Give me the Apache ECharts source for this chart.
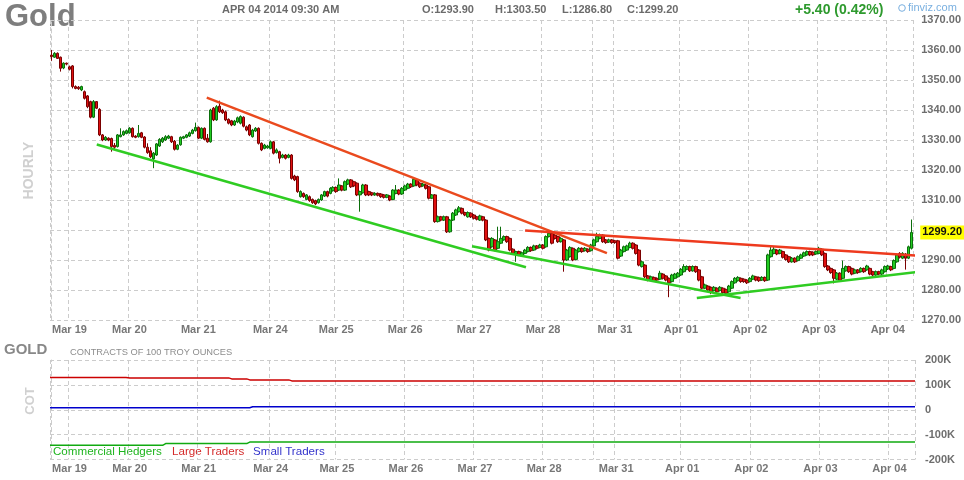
<!DOCTYPE html>
<html><head><meta charset="utf-8">
<script src="https://cdn.jsdelivr.net/npm/echarts@6/dist/echarts.min.js"></script>
<style>html,body{margin:0;padding:0;background:#fff}#c{width:964px;height:480px}</style>
</head><body><div id="c"></div>
<script>
// Hourly candles: [open, close, low, high]
const candles = [
[1358.3,1357.8,1356.4,1360.0],[1357.6,1358.9,1357.4,1359.3],[1358.9,1357.2,1357.0,1359.2],[1357.6,1353.9,1352.8,1357.8],
[1354.0,1355.6,1353.6,1355.9],[1355.6,1355.3,1354.9,1355.8],[1354.4,1353.6,1353.2,1354.8],[1354.7,1347.8,1347.2,1355.0],
[1347.8,1347.2,1346.9,1348.2],[1347.6,1347.1,1346.7,1348.0],[1346.7,1347.8,1346.3,1348.1],[1346.1,1343.9,1343.5,1346.5],
[1344.7,1341.1,1340.6,1345.0],[1342.8,1337.6,1337.2,1343.1],[1337.6,1342.8,1337.3,1343.3],[1342.8,1340.6,1340.3,1343.0],
[1340.2,1331.7,1331.3,1340.6],[1331.7,1330.0,1329.6,1332.0],[1330.0,1330.9,1329.7,1331.3],[1330.6,1330.0,1329.6,1330.9],
[1330.5,1327.8,1326.1,1330.8],[1328.2,1327.6,1326.9,1329.0],[1327.8,1331.7,1327.5,1332.0],[1331.1,1331.7,1330.9,1333.9],
[1331.7,1332.8,1331.4,1333.2],[1332.2,1333.1,1331.9,1333.5],[1332.4,1333.9,1332.1,1334.3],[1333.9,1331.1,1330.8,1334.2],
[1331.3,1330.9,1330.6,1331.6],[1331.1,1332.2,1330.8,1335.0],[1332.4,1330.9,1330.6,1332.7],[1331.0,1327.6,1327.2,1331.3],
[1327.6,1325.8,1325.4,1328.9],[1326.4,1324.4,1324.0,1327.6],[1323.7,1325.6,1320.6,1326.0],[1325.0,1328.7,1324.7,1329.0],
[1328.0,1330.2,1327.7,1330.6],[1329.4,1330.6,1329.0,1331.0],[1330.0,1331.1,1329.7,1331.6],[1330.6,1331.3,1330.3,1331.7],
[1331.1,1329.4,1329.0,1331.4],[1329.6,1326.9,1326.5,1330.0],[1326.9,1328.3,1326.6,1328.6],[1328.4,1330.9,1328.1,1331.2],
[1330.6,1331.1,1330.3,1331.4],[1330.9,1331.7,1330.6,1332.0],[1331.3,1332.4,1331.0,1332.8],[1332.2,1333.3,1331.9,1333.7],
[1333.1,1334.2,1332.8,1335.8],[1334.2,1330.6,1330.3,1334.5],[1330.6,1333.9,1330.3,1334.2],[1333.9,1330.2,1329.9,1334.2],
[1330.6,1329.4,1329.1,1332.0],[1329.4,1340.0,1329.1,1340.4],[1340.6,1336.7,1336.3,1341.0],[1336.7,1341.1,1336.4,1341.6],
[1341.3,1339.4,1339.0,1343.1],[1340.0,1339.1,1338.7,1340.4],[1339.4,1336.7,1336.3,1339.8],[1336.9,1335.6,1335.2,1337.2],
[1336.4,1335.0,1334.6,1336.7],[1335.0,1336.3,1334.7,1336.7],[1336.0,1337.4,1335.6,1337.8],[1335.6,1337.8,1335.2,1338.2],
[1337.6,1334.6,1334.2,1337.9],[1334.4,1333.3,1332.9,1334.8],[1335.0,1331.7,1331.3,1335.3],[1331.1,1333.3,1330.8,1333.7],
[1333.0,1333.9,1332.7,1334.3],[1333.9,1328.9,1328.5,1334.2],[1328.9,1326.7,1326.3,1329.2],[1327.2,1328.3,1326.9,1328.7],
[1327.4,1328.0,1327.1,1328.4],[1327.2,1329.4,1326.9,1329.8],[1329.4,1325.6,1325.2,1329.7],[1325.8,1326.7,1325.5,1327.2],
[1326.1,1323.9,1322.2,1326.4],[1324.2,1325.0,1323.9,1325.4],[1325.0,1323.9,1323.5,1325.3],[1324.2,1325.0,1323.9,1325.4],
[1325.0,1317.2,1316.8,1325.3],[1318.0,1316.7,1316.3,1318.4],[1317.8,1312.8,1312.4,1318.1],[1311.1,1312.8,1310.8,1313.2],
[1312.2,1311.1,1310.7,1312.5],[1310.2,1311.7,1309.9,1312.0],[1311.1,1309.8,1309.4,1311.5],[1310.2,1309.1,1308.7,1310.5],
[1309.8,1308.7,1308.3,1310.1],[1309.1,1310.2,1308.8,1310.5],[1310.0,1311.7,1309.7,1312.0],[1311.3,1312.8,1311.0,1313.1],
[1312.8,1311.3,1310.9,1313.1],[1312.2,1313.9,1311.9,1314.3],[1313.1,1314.2,1312.8,1314.6],[1314.2,1312.8,1312.4,1314.5],
[1313.3,1315.0,1313.0,1317.2],[1314.7,1313.3,1312.9,1315.0],[1313.3,1316.1,1313.0,1316.5],[1315.3,1316.7,1315.0,1317.1],
[1316.7,1314.4,1314.0,1317.0],[1316.1,1314.7,1314.3,1316.4],[1315.6,1311.7,1311.3,1315.9],[1311.7,1312.8,1306.1,1313.1],
[1312.4,1315.0,1312.1,1315.4],[1315.0,1311.7,1311.3,1315.3],[1312.8,1311.7,1311.3,1313.1],[1312.4,1311.7,1311.3,1312.7],
[1311.7,1312.2,1311.4,1312.6],[1312.2,1311.6,1311.2,1312.5],[1312.0,1311.1,1310.7,1312.3],[1311.7,1310.9,1310.5,1312.0],
[1310.9,1311.7,1310.6,1312.0],[1311.3,1310.0,1309.6,1311.6],[1310.2,1313.3,1309.9,1313.6],[1312.2,1313.3,1311.9,1315.0],
[1313.3,1312.0,1311.6,1313.6],[1312.0,1313.9,1311.7,1314.3],[1313.3,1314.7,1313.0,1315.1],[1313.9,1315.3,1313.6,1315.7],
[1315.3,1314.4,1314.0,1315.6],[1314.7,1316.9,1314.4,1317.4],[1316.7,1315.0,1314.6,1317.0],[1315.6,1314.4,1314.0,1315.9],
[1314.7,1315.3,1314.4,1315.7],[1315.0,1313.9,1313.5,1315.3],[1314.4,1310.6,1310.2,1314.7],[1310.6,1311.7,1310.3,1312.0],
[1311.7,1302.8,1302.4,1312.0],[1302.8,1304.4,1302.5,1304.8],[1304.4,1303.3,1302.9,1304.7],[1303.3,1304.4,1303.0,1304.8],
[1304.4,1299.4,1299.0,1304.7],[1299.4,1303.3,1299.1,1303.7],[1303.3,1305.6,1303.0,1306.0],[1305.0,1306.7,1304.7,1307.1],
[1306.1,1307.4,1305.8,1308.0],[1307.2,1305.6,1305.2,1307.5],[1305.8,1305.0,1304.6,1306.1],[1304.4,1305.8,1304.1,1306.2],
[1305.6,1304.4,1304.0,1305.9],[1305.0,1303.9,1303.5,1305.3],[1304.4,1303.6,1303.2,1304.7],[1303.3,1304.7,1303.0,1305.1],
[1304.4,1303.3,1302.9,1304.7],[1303.3,1296.7,1296.3,1303.6],[1297.2,1293.3,1292.9,1297.5],[1294.4,1297.2,1294.1,1297.6],
[1296.7,1293.3,1292.9,1297.0],[1293.9,1296.1,1293.6,1301.1],[1295.6,1297.2,1295.3,1301.1],[1296.7,1297.8,1296.4,1298.2],
[1297.8,1296.1,1295.7,1298.1],[1297.2,1293.3,1292.9,1297.5],[1293.6,1292.2,1291.8,1293.9],[1292.0,1292.8,1289.4,1293.1],
[1292.8,1291.7,1291.3,1293.1],[1291.3,1292.4,1291.0,1292.8],[1292.2,1293.3,1291.9,1293.7],[1292.8,1294.2,1292.5,1294.6],
[1294.2,1293.1,1292.7,1294.5],[1293.3,1294.7,1293.0,1295.1],[1294.7,1293.9,1293.5,1295.0],[1294.2,1295.0,1293.9,1295.4],
[1295.0,1293.9,1293.5,1295.3],[1294.4,1297.8,1294.1,1298.2],[1297.8,1298.9,1297.5,1299.4],[1298.9,1295.6,1295.2,1299.2],
[1298.3,1297.2,1296.8,1298.6],[1297.8,1296.1,1295.7,1298.1],[1296.1,1297.2,1295.8,1297.6],[1296.7,1290.0,1286.1,1297.0],
[1290.0,1293.3,1289.7,1293.7],[1291.1,1294.2,1290.8,1294.6],[1293.9,1290.0,1289.6,1294.2],[1290.2,1293.3,1289.9,1293.7],
[1292.8,1293.9,1292.5,1294.3],[1293.9,1292.8,1292.4,1294.2],[1293.1,1293.9,1292.8,1294.3],[1293.6,1292.8,1292.4,1293.9],
[1293.1,1295.0,1292.8,1295.4],[1294.7,1296.7,1294.4,1297.1],[1296.1,1297.8,1295.8,1299.1],[1297.2,1298.3,1296.9,1298.8],
[1298.3,1296.1,1295.7,1298.6],[1296.7,1295.8,1295.4,1297.0],[1296.0,1296.7,1295.7,1297.1],[1296.7,1295.8,1295.4,1297.0],
[1296.4,1295.8,1295.4,1296.7],[1296.4,1290.6,1290.2,1296.7],[1291.3,1293.3,1291.0,1293.7],[1292.8,1294.4,1292.5,1294.8],
[1293.3,1294.7,1293.0,1295.1],[1294.2,1295.6,1293.9,1296.1],[1295.6,1293.9,1293.5,1295.9],[1295.0,1292.2,1291.8,1295.3],
[1293.3,1288.3,1287.9,1293.6],[1287.8,1289.4,1287.5,1289.8],[1288.3,1284.4,1284.0,1288.6],[1284.7,1283.3,1282.9,1285.0],
[1283.3,1284.4,1283.0,1284.8],[1284.2,1283.1,1282.7,1284.5],[1283.9,1283.3,1282.9,1284.2],[1283.6,1285.6,1283.3,1286.4],
[1285.3,1283.9,1283.5,1285.6],[1284.7,1283.3,1282.9,1285.0],[1283.9,1282.4,1277.6,1284.2],[1282.8,1285.0,1282.5,1285.4],
[1283.9,1285.3,1283.6,1285.7],[1284.4,1285.6,1284.1,1286.0],[1285.0,1286.9,1284.7,1287.3],[1286.1,1287.8,1285.8,1288.6],
[1286.9,1287.8,1286.6,1288.2],[1287.8,1286.4,1286.0,1288.1],[1286.4,1287.8,1286.1,1288.2],[1287.8,1286.1,1285.7,1288.1],
[1286.7,1283.3,1282.9,1287.0],[1284.4,1280.6,1280.2,1284.7],[1280.6,1281.7,1280.3,1282.1],[1281.3,1280.0,1279.6,1281.6],
[1280.9,1279.4,1278.6,1281.2],[1279.8,1280.9,1279.5,1281.3],[1280.6,1279.4,1279.0,1280.9],[1279.8,1280.9,1279.5,1281.3],
[1280.6,1279.1,1278.7,1280.9],[1280.2,1278.9,1278.3,1280.5],[1279.4,1281.3,1279.1,1281.7],[1280.6,1282.8,1280.3,1283.2],
[1282.4,1283.9,1282.1,1284.3],[1283.1,1284.2,1282.8,1284.6],[1283.9,1282.8,1282.4,1284.2],[1283.6,1282.8,1282.4,1283.9],
[1283.3,1282.4,1282.0,1283.6],[1282.8,1283.9,1282.5,1284.3],[1283.6,1284.7,1283.3,1285.1],[1284.4,1283.3,1282.9,1284.7],
[1284.2,1283.1,1282.7,1284.5],[1283.3,1284.2,1283.0,1284.6],[1284.2,1283.1,1282.7,1284.5],[1283.3,1291.7,1283.0,1292.1],
[1291.1,1293.3,1290.8,1294.4],[1292.2,1293.6,1291.9,1294.4],[1293.3,1292.0,1291.6,1293.6],[1292.2,1293.3,1291.9,1293.7],
[1292.8,1290.9,1290.5,1293.1],[1291.7,1290.2,1289.8,1292.0],[1291.1,1289.4,1289.0,1291.4],[1289.4,1290.6,1289.1,1291.0],
[1290.6,1289.4,1289.0,1290.9],[1289.8,1291.1,1289.5,1291.5],[1290.6,1291.7,1290.3,1292.1],[1291.3,1292.4,1291.0,1292.8],
[1291.7,1292.8,1291.4,1293.2],[1292.8,1291.7,1291.3,1293.1],[1292.6,1291.7,1291.3,1292.9],[1292.0,1292.8,1291.7,1293.2],
[1292.2,1293.9,1291.9,1294.4],[1293.6,1291.7,1291.3,1293.9],[1292.2,1287.8,1287.4,1292.5],[1288.0,1286.7,1286.3,1288.3],
[1287.2,1285.8,1285.4,1287.5],[1286.7,1283.9,1282.2,1287.0],[1283.6,1285.6,1283.3,1286.0],[1285.6,1283.3,1282.9,1285.9],
[1283.9,1287.2,1283.6,1289.8],[1286.4,1287.8,1286.1,1288.2],[1287.8,1286.1,1285.7,1288.1],[1287.2,1285.3,1284.9,1287.5],
[1285.6,1286.7,1285.3,1287.1],[1286.7,1285.8,1285.4,1287.0],[1286.1,1287.2,1285.8,1287.6],[1287.2,1286.1,1285.7,1287.5],
[1286.7,1288.0,1286.4,1288.4],[1287.2,1285.3,1284.9,1287.5],[1286.1,1285.0,1284.6,1286.4],[1285.0,1286.1,1284.7,1286.5],
[1286.1,1285.3,1284.9,1286.4],[1285.3,1286.7,1285.0,1287.1],[1286.1,1287.8,1285.8,1288.2],[1287.0,1288.0,1286.7,1288.4],
[1287.8,1286.7,1286.3,1288.1],[1287.2,1289.8,1286.9,1290.2],[1289.4,1291.7,1289.1,1292.1],[1292.2,1290.9,1290.5,1292.6],
[1290.6,1292.2,1290.3,1292.6],[1292.0,1290.6,1286.8,1292.3],[1290.6,1294.4,1290.3,1294.8],[1293.9,1299.2,1293.5,1303.5]
];
const categories = candles.map((_, i) => i);

// x-axis date labels (bar index where each day label sits)
const tickIdx    = [6, 26, 49, 73, 95, 118, 141, 164, 188, 210, 233, 256, 279];
const tickLabels = ['Mar 19','Mar 20','Mar 21','Mar 24','Mar 25','Mar 26','Mar 27','Mar 28','Mar 31','Apr 01','Apr 02','Apr 03','Apr 04'];
const extraGridIdx = [0, 181];

// trend lines: [bar index, price]
const redTrend1   = [[51.8, 1344.1], [185.3, 1292.3]];
const redTrend2   = [[158.0, 1299.8], [289.2, 1291.4]];
const greenTrend1 = [[15.1, 1328.5], [158.3, 1287.6]];
const greenTrend2 = [[140.3, 1294.6], [229.9, 1277.3]];
const greenTrend3 = [[215.3, 1277.3], [291.5, 1286.3]];

// COT positions (contracts): [bar index, value]
const largeTraders      = [[-0.5,130000],[24.8,130000],[26.1,128000],[59,128000],[60,124000],[65,124000],[66,120000],[79,120000],[80,116000],[287.5,116000]];
const smallTraders      = [[-0.5,8000],[66,8000],[67,12000],[287.5,12000]];
const commercialHedgers = [[-0.5,-143000],[37,-143000],[38,-136000],[65,-136000],[66,-130000],[287.5,-130000]];

const lastPrice = 1299.20;
const headerTitle = 'Gold';
const headerDate = 'APR 04 2014 09:30 AM';
const headerOHLC = [['O:1293.90',422],['H:1303.50',495],['L:1286.80',562],['C:1299.20',627]];
const headerChange = '+5.40 (0.42%)';

const FONT = '"Liberation Sans", Arial, sans-serif';
const GRID = '#cccccc';
const DASH = [4, 3];
const tickSet = new Set(tickIdx);
const splitSet = new Set([...tickIdx, ...extraGridIdx]);

function catAxis(gi) {
  return {
    type: 'category', gridIndex: gi, data: categories, boundaryGap: true,
    axisLine: { show: false }, axisTick: { show: false },
    axisLabel: {
      interval: (i) => tickSet.has(i),
      formatter: (v, i) => tickLabels[tickIdx.indexOf(i)] || '',
      margin: 4, fontFamily: FONT, fontWeight: 'bold', fontSize: 11, color: '#777777'
    },
    splitLine: { show: true, interval: (i) => splitSet.has(i), lineStyle: { color: GRID, type: DASH, width: 1 } }
  };
}
function hiddenX(gi) {
  return { type: 'value', gridIndex: gi, min: -0.5, max: candles.length - 0.5, show: false };
}

const chart = echarts.init(document.getElementById('c'), null, { renderer: 'canvas' });
const trend = (data, color) => ({
  type: 'line', xAxisIndex: 2, yAxisIndex: 0, data, symbol: 'none', clip: false, silent: true,
  z: 5, lineStyle: { color, width: 2.5 }, animation: false
});
const cot = (data, color) => ({
  type: 'line', xAxisIndex: 3, yAxisIndex: 1, data, symbol: 'none', silent: true,
  z: 5, lineStyle: { color, width: 1.5 }, animation: false
});

chart.setOption({
  animation: false,
  backgroundColor: '#ffffff',
  grid: [
    { left: 50, right: 49, top: 20, height: 300 },
    { left: 50, right: 49, top: 360, height: 99.5 }
  ],
  xAxis: [catAxis(0), catAxis(1), hiddenX(0), hiddenX(1)],
  yAxis: [
    {
      type: 'value', gridIndex: 0, position: 'right', min: 1270, max: 1370, interval: 10,
      axisLine: { show: true, lineStyle: { color: GRID, type: DASH } }, axisTick: { show: false },
      splitLine: { lineStyle: { color: GRID, type: DASH } },
      axisLabel: { margin: 8, fontFamily: FONT, fontWeight: 'bold', fontSize: 11, color: '#6e6e6e',
        formatter: (v) => (v === 1300 ? '' : v.toFixed(2)) }
    },
    {
      type: 'value', gridIndex: 1, position: 'right', min: -200000, max: 200000, interval: 100000,
      axisLine: { show: true, lineStyle: { color: GRID, type: DASH } }, axisTick: { show: false },
      splitLine: { lineStyle: { color: GRID, type: DASH } },
      axisLabel: { margin: 10, fontFamily: FONT, fontWeight: 'bold', fontSize: 11, color: '#6e6e6e',
        formatter: (v) => (v === 0 ? '0' : (v / 1000) + 'K') }
    }
  ],
  series: [
    {
      type: 'candlestick', xAxisIndex: 0, yAxisIndex: 0, data: candles, barWidth: 3,
      itemStyle: { color: '#22cc22', color0: '#e01010', borderColor: '#0b6e0b', borderColor0: '#7a0000', borderWidth: 1 },
      markLine: {
        silent: true, symbol: 'none', animation: false,
        data: [{ yAxis: lastPrice }],
        lineStyle: { color: 'rgba(0,0,0,0)', width: 0 },
        label: { show: true, position: 'end', distance: 7, formatter: lastPrice.toFixed(2),
          backgroundColor: '#ffff00', color: '#111', fontFamily: FONT, fontWeight: 'bold', fontSize: 11, padding: [2, 2, 1, 2] }
      }
    },
    trend(redTrend1, '#ea4a1e'),
    trend(redTrend2, '#ee3a1e'),
    trend(greenTrend1, '#2fcc22'),
    trend(greenTrend2, '#2fcc22'),
    trend(greenTrend3, '#2fcc22'),
    cot(largeTraders, '#cc0000'),
    cot(smallTraders, '#0000cc'),
    cot(commercialHedgers, '#11aa11')
  ],
  graphic: [
    { type: 'text', x: 5, y: 17, style: { text: headerTitle, font: 'bold 31px ' + FONT, fill: '#7e7e7e', textVerticalAlign: 'middle' } },
    { type: 'text', x: 222, y: 10, style: { text: headerDate, font: 'bold 11px ' + FONT, fill: '#6b6b6b', textVerticalAlign: 'middle' } },
    ...headerOHLC.map(([t, x]) => ({ type: 'text', x, y: 10, style: { text: t, font: 'bold 11px ' + FONT, fill: '#6b6b6b', textVerticalAlign: 'middle' } })),
    { type: 'text', x: 795, y: 10.5, style: { text: headerChange, font: 'bold 14px ' + FONT, fill: '#2e9a2e', textVerticalAlign: 'middle' } },
    { type: 'circle', shape: { cx: 902, cy: 8, r: 3.3 }, style: { fill: 'none', stroke: '#7ab0e0', lineWidth: 1 } },
    { type: 'text', x: 908, y: 8, style: { text: 'finviz.com', font: '11px ' + FONT, fill: '#7ab0e0', textVerticalAlign: 'middle' } },
    { type: 'text', x: 29.5, y: 170.5, rotation: Math.PI / 2, style: { text: 'HOURLY', font: 'bold 14px ' + FONT, fill: '#d0d0d0', textAlign: 'center', textVerticalAlign: 'middle' } },
    { type: 'text', x: 4, y: 349.5, style: { text: 'GOLD', font: 'bold 15px ' + FONT, fill: '#888888', textVerticalAlign: 'middle' } },
    { type: 'text', x: 70, y: 352.5, style: { text: 'CONTRACTS OF 100 TROY OUNCES', font: '9.3px ' + FONT, fill: '#8c8c8c', textVerticalAlign: 'middle' } },
    { type: 'text', x: 30, y: 401, rotation: Math.PI / 2, style: { text: 'COT', font: 'bold 13px ' + FONT, fill: '#d0d0d0', textAlign: 'center', textVerticalAlign: 'middle' } },
    { type: 'text', x: 53, y: 452, style: { text: 'Commercial Hedgers', font: '11.6px ' + FONT, fill: '#1fb51f', textVerticalAlign: 'middle' } },
    { type: 'text', x: 172, y: 452, style: { text: 'Large Traders', font: '11.6px ' + FONT, fill: '#d42a2a', textVerticalAlign: 'middle' } },
    { type: 'text', x: 253, y: 452, style: { text: 'Small Traders', font: '11.6px ' + FONT, fill: '#3434cc', textVerticalAlign: 'middle' } }
  ]
});
</script>
</body></html>
